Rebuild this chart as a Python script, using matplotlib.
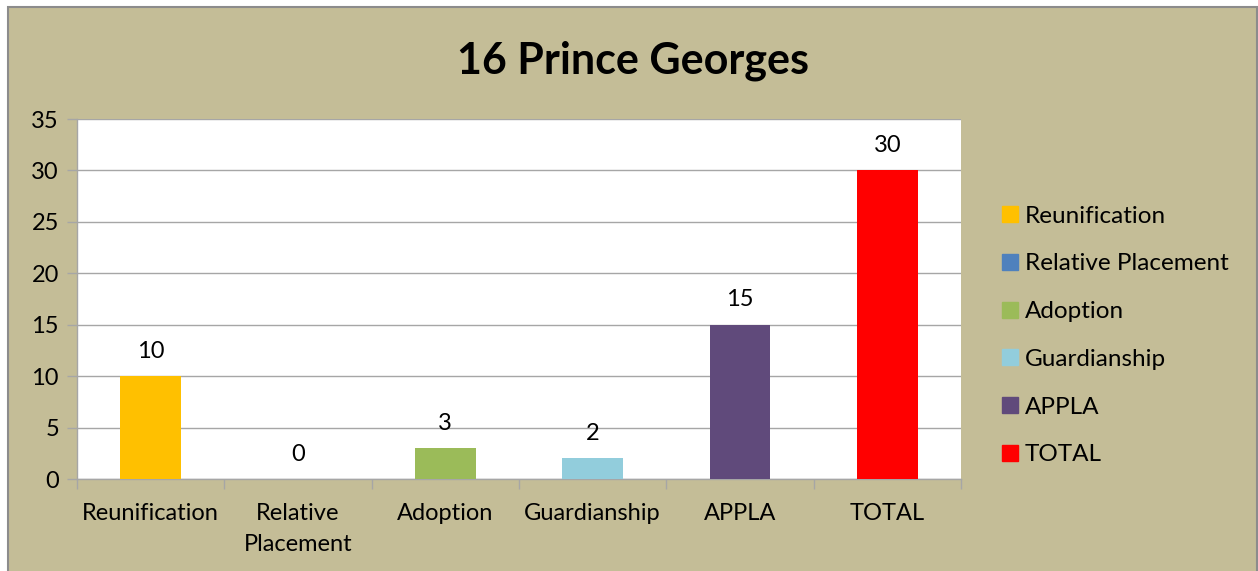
import numpy as np
import matplotlib.pyplot as plt
from matplotlib.patches import Rectangle
from matplotlib.lines import Line2D

# Chart data
title = "16 Prince Georges"
categories = ["Reunification", "Relative\nPlacement", "Adoption", "Guardianship", "APPLA", "TOTAL"]
legend_names = ["Reunification", "Relative Placement", "Adoption", "Guardianship", "APPLA", "TOTAL"]
values = [10, 0, 3, 2, 15, 30]
colors = ["#FFC000", "#4F81BD", "#9BBB59", "#92CDDC", "#604A7B", "#FF0000"]
y_ticks = [0, 5, 10, 15, 20, 25, 30, 35]

plt.rcParams['font.family'] = ['Lato', 'DejaVu Sans']

bg = "#C4BD97"
grid_col = "#A6A6A6"
fs = 17

fig = plt.figure(figsize=(12.58, 5.71), dpi=100)
fig.patch.set_facecolor("white")
# tan chart area with grey border
fig.patches.append(Rectangle((8 / 1258, -0.01), 1249 / 1258, 1 - 7 / 571 + 0.01, transform=fig.transFigure,
                             facecolor=bg, edgecolor="#8C8C8C", linewidth=1.5, zorder=-10))

ax = fig.add_axes([77 / 1258, 1 - 479 / 571, 884 / 1258, 360 / 571])
ax.set_facecolor("white")

x = np.arange(len(values))
ax.bar(x, values, width=0.41, color=colors, zorder=3)

for xi, v in zip(x, values):
    ax.text(xi, v + 1.4, str(v), ha="center", va="bottom", fontsize=fs, color="black")

ax.set_xlim(-0.5, len(values) - 0.5)
ax.set_ylim(0, 35)
ax.set_yticks(y_ticks)
ax.yaxis.grid(True, color=grid_col, linewidth=1, zorder=0)
ax.set_axisbelow(True)

ax.set_xticks(x)
ax.set_xticklabels(categories, fontsize=fs, linespacing=1.6)
ax.set_xticks(np.arange(-0.5, len(values), 1.0), minor=True)
ax.tick_params(axis="x", which="major", length=0, pad=17)
ax.tick_params(axis="x", which="minor", length=7, color=grid_col, width=1)
ax.tick_params(axis="y", length=7, color=grid_col, width=1, labelsize=fs, pad=6)

for s in ["top", "right"]:
    ax.spines[s].set_visible(False)
for s in ["left", "bottom"]:
    ax.spines[s].set_color(grid_col)
    ax.spines[s].set_linewidth(1)

fig.text(633 / 1258, 1 - 61 / 571, title, ha="center", va="center", fontsize=31, fontweight="bold")

handles = [Line2D([0], [0], marker="s", linestyle="none", markersize=11,
                  markerfacecolor=c, markeredgecolor=c) for c in colors]
leg = fig.legend(handles, legend_names, loc="upper left", bbox_to_anchor=(993 / 1258, 1 - 196 / 571),
                 frameon=False, fontsize=17.5, handlelength=0.6, handletextpad=0.3,
                 labelspacing=1.1, borderaxespad=0)

fig.savefig("out.png", dpi=100, facecolor=fig.get_facecolor())
